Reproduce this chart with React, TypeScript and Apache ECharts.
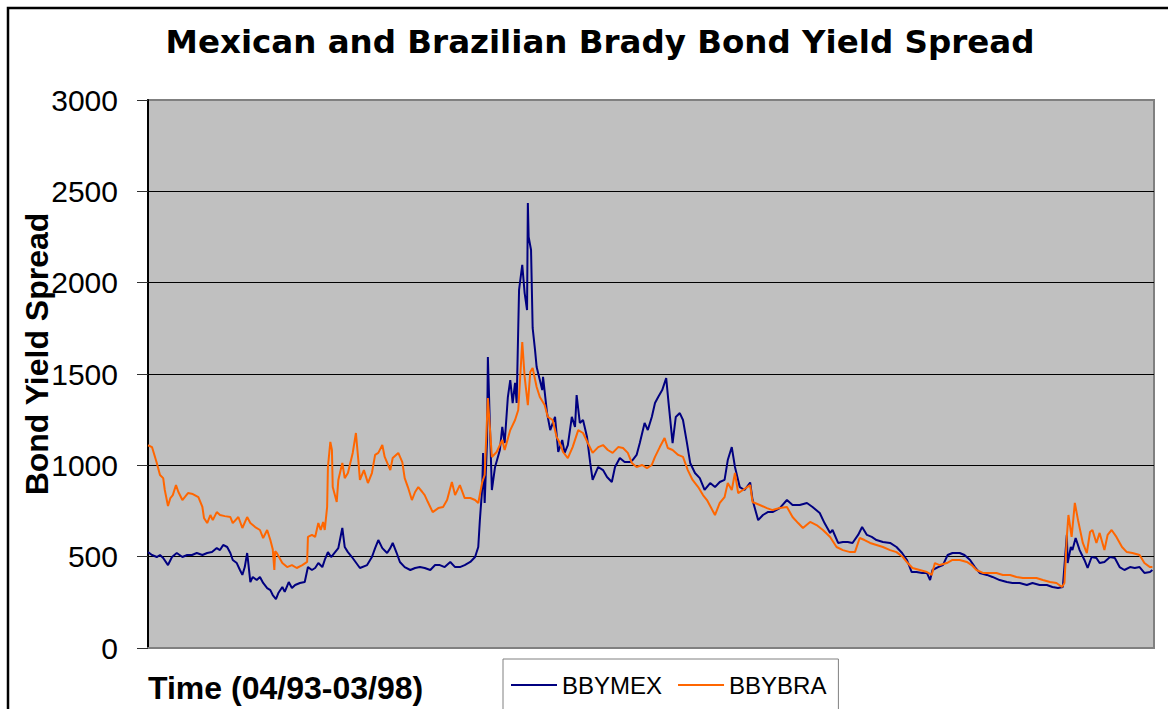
import React, { useEffect, useRef } from "react";
import * as echarts from "echarts";

// Trading-day index (0 = April 1993) and spread values (basis points)
const mexDay = [0,5,11,15,19,25,30,36,43,49,55,61,68,74,80,86,90,94,99,103,106,111,115,118,121,124,125,128,131,136,140,144,149,153,156,160,163,168,171,176,180,184,190,196,200,205,209,213,218,221,225,229,233,238,240,243,246,250,255,265,274,280,284,288,293,299,303,306,311,315,321,328,334,340,346,353,359,365,371,378,384,390,396,403,409,413,415,418,419,421,424,425,430,434,440,443,446,450,453,456,459,461,464,468,471,474,475,476,479,481,484,486,490,493,494,499,503,509,513,518,521,525,530,534,536,540,544,549,553,556,563,569,574,580,584,590,596,603,606,611,615,621,625,630,634,638,643,648,651,656,660,665,669,674,678,684,690,696,703,709,715,721,725,730,734,740,746,753,756,763,769,775,781,790,799,806,815,824,831,840,846,853,856,863,869,875,881,888,893,899,905,911,919,928,936,943,949,955,961,968,974,978,981,988,994,1000,1006,1015,1021,1028,1034,1040,1049,1056,1065,1074,1081,1090,1099,1106,1115,1124,1131,1138,1144,1149,1150,1154,1156,1160,1165,1171,1175,1180,1186,1190,1196,1203,1209,1215,1221,1228,1234,1240,1246,1253,1256];
const mexValue = [525,509,498,509,493,454,498,520,498,509,509,520,509,520,525,547,536,564,553,520,482,465,427,400,443,520,482,361,389,372,389,356,328,317,290,268,301,334,307,361,328,345,356,361,443,427,438,465,443,482,525,498,520,547,591,657,553,525,498,438,454,498,547,591,547,520,547,575,520,471,443,427,438,443,438,427,454,454,443,471,443,443,454,471,498,553,700,881,1068,794,1139,1593,865,991,1084,1210,1122,1374,1467,1341,1451,1341,1960,2097,1943,1850,2436,2250,2179,1752,1631,1538,1467,1412,1484,1286,1193,1265,1073,1139,1068,1111,1265,1210,1385,1232,1248,1155,1013,920,991,974,936,909,991,1040,1018,1018,1029,1057,1122,1232,1193,1265,1341,1374,1412,1478,1341,1122,1265,1286,1248,1122,1013,958,930,865,903,881,909,920,1029,1100,991,881,865,906,810,700,728,744,744,766,810,783,783,794,772,739,684,630,646,575,580,580,575,619,662,619,608,591,580,575,553,520,482,416,416,411,411,372,427,443,454,509,520,520,509,482,443,411,400,389,372,361,356,356,345,356,345,345,334,328,334,619,465,553,536,602,536,482,438,498,493,465,471,498,493,443,427,443,438,443,411,416,427];

const braDay = [0,5,11,15,19,21,25,28,31,35,38,43,46,50,56,63,68,70,74,78,81,86,90,96,103,106,113,118,124,128,134,140,144,149,153,156,158,159,161,168,174,180,186,193,199,200,205,209,213,216,219,221,224,225,228,230,231,236,238,243,246,250,256,260,263,265,270,275,280,284,288,293,296,303,306,313,318,321,325,330,334,338,343,346,350,356,363,369,374,380,384,390,396,403,409,413,418,421,425,430,436,443,446,453,459,463,468,471,475,478,481,486,490,496,500,506,511,515,519,525,531,538,544,550,556,563,569,575,581,588,594,600,605,611,618,624,630,634,640,646,650,656,663,669,675,681,688,694,699,709,715,721,725,730,734,738,744,753,756,765,774,781,790,799,806,813,819,828,836,844,853,861,869,878,884,890,896,903,911,919,928,936,944,950,956,965,974,980,984,990,999,1006,1015,1024,1030,1036,1044,1053,1061,1069,1078,1086,1094,1103,1111,1119,1128,1136,1143,1146,1149,1151,1155,1159,1163,1169,1174,1178,1181,1186,1190,1196,1200,1205,1211,1218,1224,1231,1240,1246,1253,1256];
const braValue = [1110,1100,1013,947,930,865,777,821,837,892,854,810,826,848,843,826,772,712,684,728,700,744,728,722,717,684,717,657,717,684,662,646,602,646,591,540,427,530,520,465,443,454,438,454,471,608,619,608,684,646,690,646,772,991,1128,1084,881,799,920,1013,930,958,1068,1177,1029,920,974,903,958,1057,1068,1111,1046,974,1040,1068,1018,930,881,810,854,881,854,837,799,744,766,772,810,909,837,892,821,821,810,794,909,947,1368,1046,1073,1139,1084,1193,1248,1303,1675,1484,1330,1511,1533,1429,1374,1330,1265,1248,1155,1122,1073,1040,1100,1193,1177,1122,1068,1100,1111,1084,1068,1100,1095,1068,1013,991,1002,985,1002,1046,1100,1150,1095,1084,1057,1046,974,920,881,837,810,728,794,826,903,865,958,848,865,892,799,783,766,755,766,772,717,684,657,690,673,646,608,553,536,525,525,602,591,575,564,553,536,525,498,465,438,427,416,400,465,454,465,482,482,471,454,427,411,411,411,400,400,389,383,383,383,372,361,356,334,356,608,728,608,794,700,575,520,635,646,575,630,536,619,646,608,553,525,520,509,465,443,443];

const seriesNames = ["BBYMEX", "BBYBRA"];
const yTicks = { min: 0, max: 3000, interval: 500 };
const titleText = "Mexican and Brazilian Brady Bond Yield Spread";
const xTitle = "Time (04/93-03/98)";
const yTitle = "Bond Yield Spread";

const zip = (a: number[], b: number[]) => a.map((d, i) => [d, b[i]]);

export default function App() {
  const ref = useRef<HTMLDivElement>(null);
  useEffect(() => {
    if (!ref.current) return;
    const chart = echarts.init(ref.current, null, { renderer: "svg" });
    const sans = "'Liberation Sans', Arial, sans-serif";
    chart.setOption({
      animation: false,
      backgroundColor: "#ffffff",
      grid: {
        left: 148,
        top: 100,
        right: 14,
        bottom: 61,
        show: true,
        backgroundColor: "#C0C0C0",
        borderColor: "#808080",
        borderWidth: 2,
      },
      xAxis: {
        type: "value",
        min: 0,
        max: 1258,
        axisLine: { show: true, lineStyle: { color: "#808080", width: 2 } },
        axisTick: { show: false },
        axisLabel: { show: false },
        splitLine: { show: false },
      },
      yAxis: {
        type: "value",
        min: yTicks.min,
        max: yTicks.max,
        interval: yTicks.interval,
        axisLine: { show: true, lineStyle: { color: "#000000", width: 2 } },
        axisTick: { show: true, length: 11, lineStyle: { color: "#303030", width: 1 } },
        axisLabel: {
          margin: 30,
          fontSize: 30,
          color: "#000",
          fontFamily: sans,
          formatter: (v: number) => String(v),
        },
        splitLine: { show: true, showMaxLine: false, showMinLine: false, lineStyle: { color: "#000000", width: 1 } },
      },
      legend: {
        left: 503,
        top: 659,
        padding: [14, 12, 22, 8],
        itemGap: 16,
        itemWidth: 46,
        itemHeight: 2,
        icon: "rect",
        borderColor: "#808080",
        borderWidth: 1,
        backgroundColor: "#ffffff",
        textStyle: {
          fontSize: 24,
          color: "#000",
          fontFamily: sans,
        },
        data: seriesNames,
      },
      graphic: [
        {
          type: "rect",
          shape: { x: 8, y: 8, width: 1300, height: 900 },
          style: { fill: "none", stroke: "#000", lineWidth: 2.5 },
          silent: true,
        },
        {
          type: "text",
          x: 600,
          y: 42,
          style: {
            text: titleText,
            fontSize: 32.5,
            fontWeight: "bold",
            fontFamily: "'DejaVu Sans', sans-serif",
            fill: "#000",
            textAlign: "center",
            textVerticalAlign: "middle",
          },
        },
        {
          type: "text",
          x: 148,
          y: 688,
          style: {
            text: xTitle,
            fontSize: 32,
            fontWeight: "bold",
            fontFamily: sans,
            fill: "#000",
            textAlign: "left",
            textVerticalAlign: "middle",
          },
        },
        {
          type: "text",
          x: 37,
          y: 354,
          rotation: Math.PI / 2,
          style: {
            text: yTitle,
            fontSize: 32,
            fontWeight: "bold",
            fontFamily: sans,
            fill: "#000",
            textAlign: "center",
            textVerticalAlign: "middle",
          },
        },
      ],
      series: [
        {
          name: seriesNames[0],
          type: "line",
          data: zip(mexDay, mexValue),
          symbol: "none",
          lineStyle: { color: "#000080", width: 2 },
          itemStyle: { color: "#000080" },
        },
        {
          name: seriesNames[1],
          type: "line",
          data: zip(braDay, braValue),
          symbol: "none",
          lineStyle: { color: "#FF6600", width: 2 },
          itemStyle: { color: "#FF6600" },
        },
      ],
    });
    return () => chart.dispose();
  }, []);
  return (
    <div
      ref={ref}
      style={{ position: "fixed", left: 0, top: 0, width: 1168, height: 709 }}
    />
  );
}
